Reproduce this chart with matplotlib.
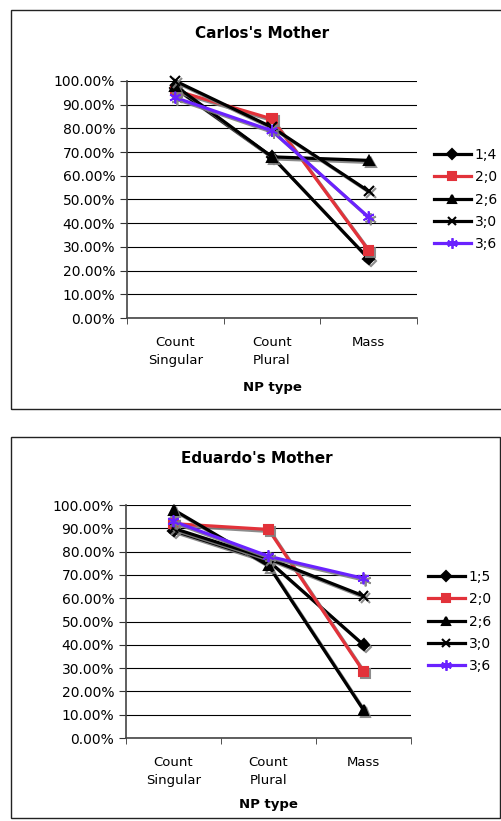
import matplotlib.pyplot as plt
import matplotlib.patheffects as pe
from matplotlib.lines import Line2D
from matplotlib.patches import Rectangle
from matplotlib.ticker import PercentFormatter, FixedLocator

plt.rcParams['font.family'] = ['DejaVu Sans']

# Données
categories = ['Count\nSingular', 'Count\nPlural', 'Mass']

carlos_labels = ['1;4', '2;0', '2;6', '3;0', '3;6']
carlos_14 = [97.0, 68.0, 25.0]
carlos_20 = [96.0, 84.0, 28.5]
carlos_26 = [98.0, 68.0, 66.5]
carlos_30 = [100.0, 80.5, 53.5]
carlos_36 = [93.0, 79.0, 42.5]

eduardo_labels = ['1;5', '2;0', '2;6', '3;0', '3;6']
eduardo_15 = [89.0, 76.0, 40.0]
eduardo_20 = [92.0, 89.5, 28.5]
eduardo_26 = [98.0, 74.0, 12.0]
eduardo_30 = [90.0, 77.0, 61.0]
eduardo_36 = [93.0, 78.0, 68.5]

# Styles des séries
colors = ['black', '#e2323a', 'black', 'black', '#6a22ff']
markers = ['D', 's', '^', 'x', (6, 2, 0)]
msizes = [5.5, 6.5, 7, 7, 8.5]
mews = [1.5, 1.5, 1.5, 1.5, 1.3]

fig = plt.figure(figsize=(5.02, 8.21), dpi=100)

# Cadres des graphiques
fig.patches.append(Rectangle((11 / 502, 1 - 409 / 821), 492 / 502, 399 / 821,
                             transform=fig.transFigure, fill=False, ec='#222222', lw=1))
fig.patches.append(Rectangle((11 / 502, 1 - 818 / 821), 489 / 502, 381 / 821,
                             transform=fig.transFigure, fill=False, ec='#222222', lw=1))


def draw_chart(ax, series, labels, title, title_x, title_y, xlabel_y):
    x = range(len(categories))
    shadow = [pe.SimpleLineShadow(offset=(1.5, -1.5), shadow_color='#808080', alpha=0.9),
              pe.Normal()]
    for vals, c, m, ms, mw in zip(series, colors, markers, msizes, mews):
        ax.plot(x, vals, color=c, lw=2.3, marker=m, ms=ms, mew=mw,
                mec=c, mfc=c, path_effects=shadow, clip_on=False, zorder=3)

    ax.set_xlim(-0.5, 2.5)
    ax.set_ylim(0, 100)
    ax.set_yticks(range(0, 101, 10))
    ax.yaxis.set_major_formatter(PercentFormatter(decimals=2))
    ax.grid(axis='y', color='black', lw=0.8)
    ax.set_axisbelow(True)

    ax.set_xticks(list(x))
    ax.set_xticklabels(categories, fontsize=9.5, linespacing=1.45)
    ax.tick_params(axis='x', length=0, pad=13)
    ax.xaxis.set_minor_locator(FixedLocator([-0.5, 0.5, 1.5, 2.5]))
    ax.tick_params(axis='x', which='minor', length=4, direction='out', color='#333333')
    ax.tick_params(axis='y', length=5, direction='out', labelsize=10, color='#333333')

    for s in ['top', 'right']:
        ax.spines[s].set_visible(False)
    for s in ['left', 'bottom']:
        ax.spines[s].set_color('#444444')
        ax.spines[s].set_linewidth(1.2)

    fig.text(title_x, title_y, title, ha='center', va='center', fontsize=11, fontweight='bold')
    pos = ax.get_position()
    fig.text((pos.x0 + pos.x1) / 2, xlabel_y, 'NP type', ha='center', va='center',
             fontsize=9.5, fontweight='bold')

    handles = [Line2D([], [], color=c, lw=2.3, marker=m, ms=ms * 0.9, mew=mw, mec=c, mfc=c)
               for c, m, ms, mw in zip(colors, markers, msizes, mews)]
    ax.legend(handles, labels, loc='center left', bbox_to_anchor=(1.0, 0.5),
              frameon=False, fontsize=10, handlelength=2.7, handletextpad=0.25,
              labelspacing=0.6, borderaxespad=0.8)


ax1 = fig.add_axes([127 / 502, 1 - 318 / 821, 290 / 502, 237 / 821])
draw_chart(ax1, [carlos_14, carlos_20, carlos_26, carlos_30, carlos_36],
           carlos_labels, "Carlos's Mother", 262 / 502, 1 - 34 / 821, 1 - 387 / 821)

ax2 = fig.add_axes([126 / 502, 1 - 738 / 821, 285 / 502, 233 / 821])
draw_chart(ax2, [eduardo_15, eduardo_20, eduardo_26, eduardo_30, eduardo_36],
           eduardo_labels, "Eduardo's Mother", 257 / 502, 1 - 458 / 821, 1 - 804 / 821)

fig.savefig('out.png', dpi=100)
